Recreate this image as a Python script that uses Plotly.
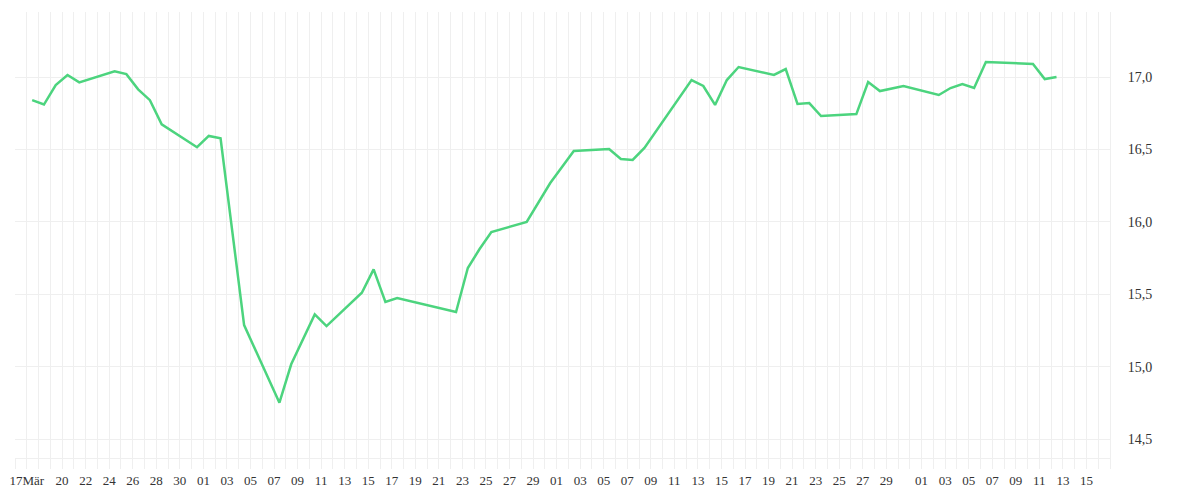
import plotly.graph_objects as go
import pandas as pd

# ---- data ----
dates = ["2025-03-17", "2025-03-18", "2025-03-19", "2025-03-20", "2025-03-21",
         "2025-03-24", "2025-03-25", "2025-03-26", "2025-03-27", "2025-03-28",
         "2025-03-31", "2025-04-01", "2025-04-02", "2025-04-04",
         "2025-04-07", "2025-04-08", "2025-04-10", "2025-04-11",
         "2025-04-14", "2025-04-15", "2025-04-16", "2025-04-17",
         "2025-04-22", "2025-04-23", "2025-04-24", "2025-04-25",
         "2025-04-28", "2025-04-29", "2025-04-30", "2025-05-02",
         "2025-05-05", "2025-05-06", "2025-05-07", "2025-05-08", "2025-05-09",
         "2025-05-12", "2025-05-13", "2025-05-14", "2025-05-15", "2025-05-16",
         "2025-05-19", "2025-05-20", "2025-05-21", "2025-05-22", "2025-05-23",
         "2025-05-26", "2025-05-27", "2025-05-28", "2025-05-30",
         "2025-06-02", "2025-06-03", "2025-06-04", "2025-06-05", "2025-06-06",
         "2025-06-10", "2025-06-11", "2025-06-12"]

values = [16.84, 16.81, 16.945, 17.014, 16.963,
          17.04, 17.02, 16.915, 16.84, 16.673,
          16.515, 16.593, 16.577, 15.287,
          14.751, 15.016, 15.361, 15.28,
          15.51, 15.672, 15.446, 15.474,
          15.377, 15.681, 15.812, 15.93,
          15.999, 16.137, 16.268, 16.489,
          16.503, 16.434, 16.427, 16.51, 16.627,
          16.979, 16.938, 16.807, 16.979, 17.069,
          17.014, 17.055, 16.814, 16.82, 16.731,
          16.744, 16.965, 16.903, 16.938,
          16.876, 16.924, 16.952, 16.924, 17.104,
          17.09, 16.986, 17.0]

tick_dates = ["2025-03-17", "2025-03-20", "2025-03-22", "2025-03-24", "2025-03-26",
              "2025-03-28", "2025-03-30",
              "2025-04-01", "2025-04-03", "2025-04-05", "2025-04-07", "2025-04-09",
              "2025-04-11", "2025-04-13", "2025-04-15", "2025-04-17", "2025-04-19",
              "2025-04-21", "2025-04-23", "2025-04-25", "2025-04-27", "2025-04-29",
              "2025-05-01", "2025-05-03", "2025-05-05", "2025-05-07", "2025-05-09",
              "2025-05-11", "2025-05-13", "2025-05-15", "2025-05-17", "2025-05-19",
              "2025-05-21", "2025-05-23", "2025-05-25", "2025-05-27", "2025-05-29",
              "2025-06-01", "2025-06-03", "2025-06-05", "2025-06-07", "2025-06-09",
              "2025-06-11", "2025-06-13", "2025-06-15"]

tick_labels = ["17Mär", "20", "22", "24", "26", "28", "30",
               "01", "03", "05", "07", "09", "11", "13", "15", "17", "19",
               "21", "23", "25", "27", "29",
               "01", "03", "05", "07", "09", "11", "13", "15", "17", "19",
               "21", "23", "25", "27", "29",
               "01", "03", "05", "07", "09", "11", "13", "15"]

y_ticks = [14.5, 15.0, 15.5, 16.0, 16.5, 17.0]

GRID = "#efefef"
FONT = "Liberation Serif"
TXT = "#333333"

x_vals = pd.to_datetime(dates) + pd.Timedelta(hours=11)

fig = go.Figure()
fig.add_trace(go.Scatter(
    x=x_vals, y=values, mode="lines",
    line=dict(color="#4cd47e", width=2.5),
    hoverinfo="x+y", showlegend=False,
))

fig.update_layout(
    width=1184, height=484,
    margin=dict(l=7, r=82, t=4, b=34),
    paper_bgcolor="white", plot_bgcolor="white",
    separators=", ",
    font=dict(family=FONT, size=13, color=TXT),
    xaxis=dict(
        type="date",
        range=["2025-03-16", "2025-06-17"],
        tickmode="array",
        tickvals=pd.to_datetime(tick_dates),
        ticktext=tick_labels,
        tickangle=0,
        automargin=False,
        showgrid=True, gridcolor=GRID, gridwidth=1,
        ticks="outside", ticklen=10, tickcolor=GRID, tickwidth=1,
        showline=True, linecolor=GRID, linewidth=1,
        zeroline=False,
        tickfont=dict(family=FONT, size=13, color=TXT),
        minor=dict(dtick=86400000, tick0="2025-03-16", showgrid=True,
                   gridcolor=GRID, gridwidth=1,
                   ticks="outside", ticklen=10, tickcolor=GRID, tickwidth=1),
    ),
    yaxis=dict(
        side="right",
        range=[14.369, 17.449],
        tickmode="array",
        tickvals=y_ticks,
        tickformat=".1f",
        automargin=False,
        showgrid=True, gridcolor=GRID, gridwidth=1,
        zeroline=False,
        showline=True, linecolor=GRID, linewidth=1,
        ticks="",
        ticklabelstandoff=14,
        tickfont=dict(family=FONT, size=14, color=TXT),
    ),
)

fig.write_html("out.html")
